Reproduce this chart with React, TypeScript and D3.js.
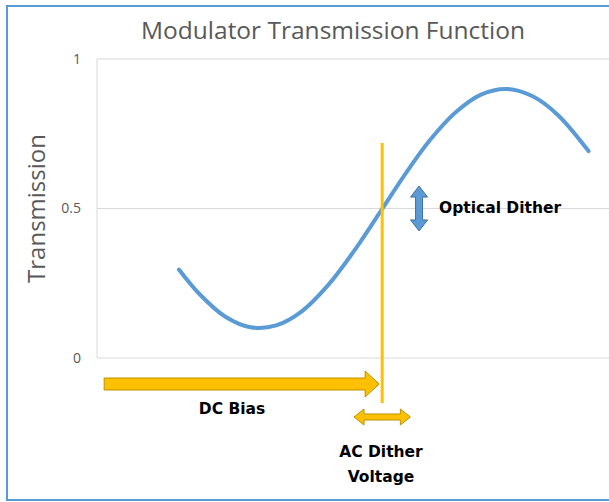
import React from "react";
import * as d3 from "d3";

// curve (x in arbitrary bias-voltage units, y = transmission)
const voltage = [1.6, 2.0, 2.5, 3.0, 3.5, 4.0, 4.5, 5.0, 5.5, 6.0, 6.5, 7.0, 7.5, 8.0, 8.5, 9.0, 9.6];
const transmission = [0.296, 0.214, 0.139, 0.103, 0.109, 0.156, 0.241, 0.353, 0.48, 0.61, 0.728, 0.821, 0.881, 0.9, 0.876, 0.813, 0.692];
const yTicks = [0, 0.5, 1];
const yTickLabels = ["0", "0.5", "1"];

// annotation values
const dcStart = 0.14;
const dcBias = 5.57;
const acSwing = 0.55;
const opticalSwing = 0.075;

const W = 609;
const H = 502;
const margin = { left: 97, top: 59, bottom: 144 };

const blue = "#5B9BD5";
const gold = "#FFC000";
const goldDark = "#BF9000";
const grey = "#595959";
const boldFont = "DejaVu Sans";

// horizontal arrow outline, optionally double-headed
function hArrow(x0: number, x1: number, yc: number, shaft: number, head: number, headLen: number, both: boolean) {
  const p = d3.path();
  const s = shaft / 2, h = head / 2;
  if (both) {
    p.moveTo(x0, yc);
    p.lineTo(x0 + headLen, yc - h);
    p.lineTo(x0 + headLen, yc - s);
  } else {
    p.moveTo(x0, yc - s);
  }
  p.lineTo(x1 - headLen, yc - s);
  p.lineTo(x1 - headLen, yc - h);
  p.lineTo(x1, yc);
  p.lineTo(x1 - headLen, yc + h);
  p.lineTo(x1 - headLen, yc + s);
  if (both) {
    p.lineTo(x0 + headLen, yc + s);
    p.lineTo(x0 + headLen, yc + h);
  } else {
    p.lineTo(x0, yc + s);
  }
  p.closePath();
  return p.toString();
}

function vArrow(xc: number, y0: number, y1: number, shaft: number, head: number, headLen: number) {
  const p = d3.path();
  const s = shaft / 2, h = head / 2;
  p.moveTo(xc, y0);
  p.lineTo(xc + h, y0 + headLen);
  p.lineTo(xc + s, y0 + headLen);
  p.lineTo(xc + s, y1 - headLen);
  p.lineTo(xc + h, y1 - headLen);
  p.lineTo(xc, y1);
  p.lineTo(xc - h, y1 - headLen);
  p.lineTo(xc - s, y1 - headLen);
  p.lineTo(xc - s, y0 + headLen);
  p.lineTo(xc - h, y0 + headLen);
  p.closePath();
  return p.toString();
}

export default function App() {
  const x = d3.scaleLinear().domain([0, 10]).range([margin.left, W]);
  const y = d3.scaleLinear().domain([0, 1]).range([H - margin.bottom, margin.top]);

  const pts: [number, number][] = voltage.map((v, i) => [v, transmission[i]]);
  const line = d3.line<[number, number]>()
    .x(d => x(d[0]))
    .y(d => y(d[1]))
    .curve(d3.curveCatmullRom);

  const xb = x(dcBias);
  const dcY = 384;
  const acY = 417;
  const optX = x(dcBias + 0.72);

  return (
    <svg width={W} height={H} style={{ position: "absolute", left: 0, top: 0, background: "#fff" }}>
      <rect x={7} y={6} width={W + 20} height={494} fill="#fff" stroke={blue} strokeWidth={2} />
      <text x={333} y={39} textAnchor="middle" fontFamily="Open Sans" fontSize={24.5} fill={grey}>
        Modulator Transmission Function
      </text>
      <text transform={`translate(45,${y(0.5)}) rotate(-90)`} textAnchor="middle" fontFamily="Open Sans" fontSize={24} fill={grey}>
        Transmission
      </text>
      {yTicks.map((t, i) => (
        <g key={t}>
          <line x1={margin.left} x2={W} y1={y(t)} y2={y(t)} stroke="#D9D9D9" strokeWidth={1} />
          <text x={81} y={y(t)} dy="0.35em" textAnchor="end" fontFamily="Open Sans" fontSize={14} fill={grey}>
            {yTickLabels[i]}
          </text>
        </g>
      ))}
      <line x1={margin.left} x2={margin.left} y1={y(0)} y2={y(1)} stroke="#D9D9D9" strokeWidth={1} />
      <path d={line(pts) || ""} fill="none" stroke={blue} strokeWidth={4} strokeLinecap="round" />

      <line x1={xb} x2={xb} y1={143} y2={403} stroke={gold} strokeWidth={3} />
      <path d={hArrow(x(dcStart), x(dcBias - 0.06), dcY, 12, 26, 14, false)} fill={gold} stroke={goldDark} strokeWidth={1} />
      <text x={232} y={414} textAnchor="middle" fontFamily={boldFont} fontWeight="bold" fontSize={15.5} fill="#000">DC Bias</text>

      <path d={hArrow(x(dcBias - acSwing), x(dcBias + acSwing), acY, 6, 16, 10, true)} fill={gold} stroke={goldDark} strokeWidth={1} />
      <text x={381} y={457} textAnchor="middle" fontFamily={boldFont} fontWeight="bold" fontSize={15.5} fill="#000">AC Dither</text>
      <text x={381} y={482} textAnchor="middle" fontFamily={boldFont} fontWeight="bold" fontSize={15.5} fill="#000">Voltage</text>

      <path d={vArrow(optX, y(0.5 + opticalSwing), y(0.5 - opticalSwing), 7, 17, 11)} fill={blue} stroke="#41719C" strokeWidth={1} />
      <text x={439} y={213} fontFamily={boldFont} fontWeight="bold" fontSize={15.5} fill="#000">Optical Dither</text>
    </svg>
  );
}
